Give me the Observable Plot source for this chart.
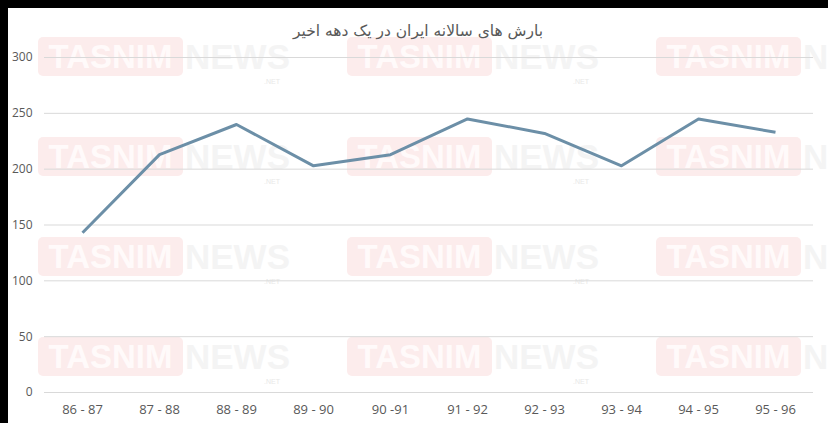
<!DOCTYPE html>
<html>
<head>
<meta charset="utf-8">
<script src="https://cdn.jsdelivr.net/npm/d3@7"></script>
<script src="https://cdn.jsdelivr.net/npm/@observablehq/plot@0.6"></script>
<style>
  html, body { margin: 0; padding: 0; background: #000; }
  #frame { position: absolute; left: 8px; top: 8px; width: 820px; height: 415px; background: #fff; overflow: hidden; }
  #wm { position: absolute; left: 0; top: 0; width: 820px; height: 415px; }
  .wmItem { position: absolute; display: flex; align-items: flex-start; }
  .wmBox { width: 145px; height: 39px; background: #fcecec; border-radius: 5px; color: #fffafa;
           font: bold 33px "Liberation Sans", Arial, sans-serif; line-height: 39px; text-align: center; }
  .wmNews { width: 104px; height: 39px; color: #f4f4f4; font: bold 35px "Liberation Sans", Arial, sans-serif; line-height: 39px; padding-left: 2px; }
  .wmNet { position: absolute; left: 226px; top: 41px; font: 7px "Liberation Sans", sans-serif; color: #e8e8e8; line-height: 8px; }
  #title { position: relative; height: 40px; font: 15.5px "DejaVu Sans", "Noto Sans", sans-serif; color: #595959; direction: rtl; line-height: 17px; }
  #title span { position: absolute; left: 0; right: 0; top: 15px; text-align: center; }
  #chart { position: relative; }
</style>
</head>
<body>
<div id="frame">
  <div id="wm"></div>
  <div id="title"><span>بارش های سالانه ایران در یک دهه اخیر</span></div>
  <div id="chart"></div>
</div>
<script>
const categories = ["86 - 87", "87 - 88", "88 - 89", "89 - 90", "90 -91", "91 - 92", "92 - 93", "93 - 94", "94 - 95", "95 - 96"];
const rainfall = [143, 213, 240, 203, 213, 245, 232, 203, 245, 233];
const yTicks = [0, 50, 100, 150, 200, 250, 300];

// decorative watermark (background, not data)
const wm = document.getElementById("wm");
for (let r = 0; r < 4; r++) {
  for (let c = 0; c < 3; c++) {
    const item = document.createElement("div");
    item.className = "wmItem";
    item.style.left = (30 + c * 309) + "px";
    item.style.top = (29 + r * 100) + "px";
    item.innerHTML = '<div class="wmBox">TASNIM</div><div class="wmNews">NEWS</div><span class="wmNet">.NET</span>';
    wm.appendChild(item);
  }
}

const data = categories.map((c, i) => ({category: c, value: rainfall[i]}));

const chart = Plot.plot({
  width: 820,
  height: 375,
  marginTop: 9,
  marginBottom: 31,
  marginLeft: 36,
  marginRight: 15,
  style: {fontFamily: "'Open Sans', 'DejaVu Sans', sans-serif", fontSize: "12px", color: "#595959", background: "transparent"},
  x: {domain: categories, type: "point", padding: 0, range: [74, 767], label: null, tickSize: 0, tickPadding: 12},
  y: {domain: [0, 300], ticks: yTicks, label: null, tickSize: 0, tickPadding: 12},
  marks: [
    Plot.ruleY(yTicks, {stroke: "#d9d9d9", strokeWidth: 1}),
    Plot.axisY({ticks: yTicks, tickSize: 0, tickPadding: 12, label: null, fill: "#595959", fontSize: 12}),
    Plot.axisX({tickSize: 0, tickPadding: 12, label: null, fill: "#595959", fontSize: 13}),
    Plot.line(data, {x: "category", y: "value", stroke: "#6c8fa7", strokeWidth: 3, strokeLinejoin: "round", strokeLinecap: "butt"})
  ]
});
document.getElementById("chart").appendChild(chart);
</script>
</body>
</html>
